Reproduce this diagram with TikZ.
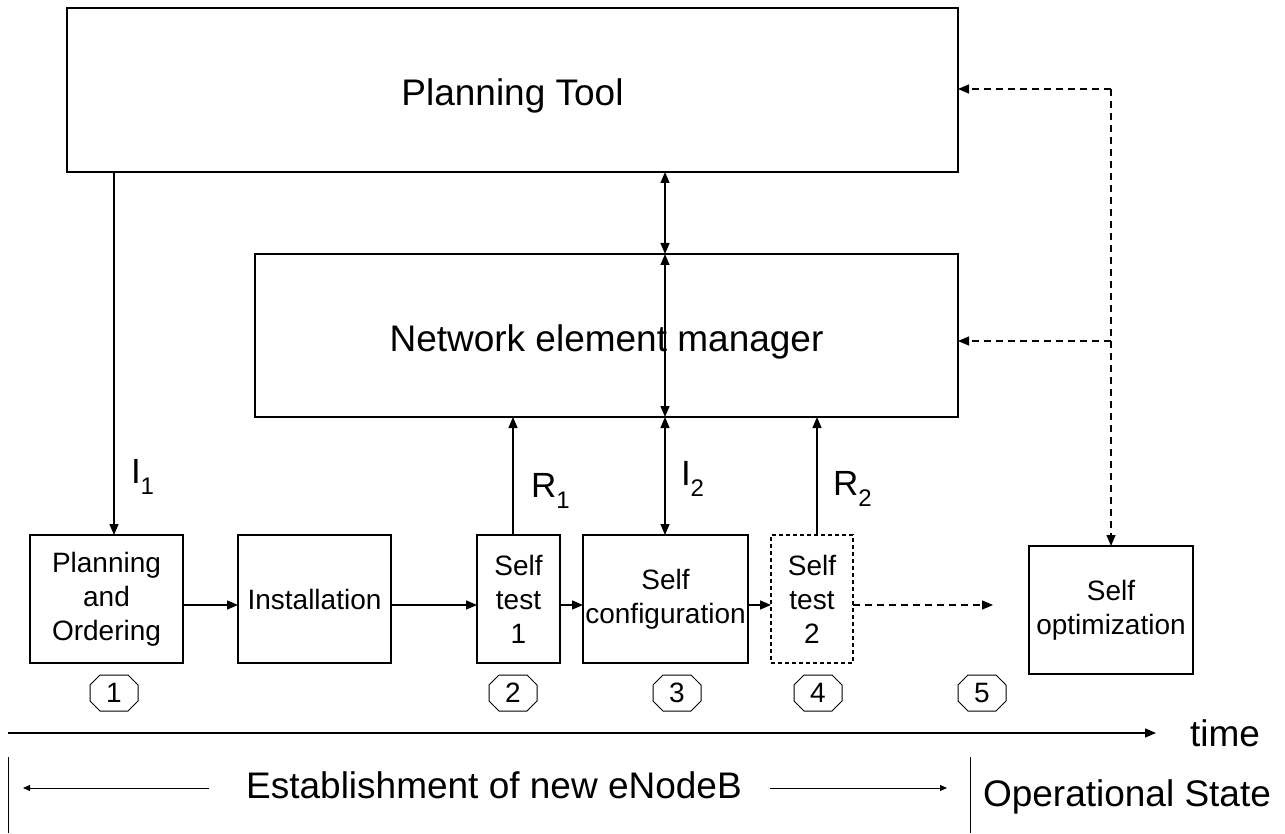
\documentclass[tikz,border=0pt]{standalone}
\usepackage{fontspec}
\setmainfont{Liberation Sans}
\usetikzlibrary{arrows.meta}
\newcommand\biglab{\fontsize{37}{44}\selectfont}
\newcommand\smalllab{\fontsize{28}{34}\selectfont}
\newcommand\sublab[2]{{\fontsize{35}{40}\selectfont #1\raisebox{-11pt}{\fontsize{24}{24}\selectfont #2}}}
\begin{document}
\begin{tikzpicture}[x=1pt,y=-1pt,
  every node/.style={inner sep=0pt,outer sep=0pt},
  bigbox/.style={draw,line width=1.2pt,align=center,font=\biglab,text height=39pt,text depth=8pt},
  stagebox/.style={draw,line width=1.2pt,align=center,font=\smalllab,minimum height=128pt},
  arr/.style={line width=1.3pt,-{Triangle[length=11pt,width=9pt]}},
  darr/.style={line width=1.3pt,{Triangle[length=11pt,width=9pt]}-{Triangle[length=11pt,width=9pt]}},
  dasharr/.style={line width=1.3pt,dash pattern=on 7pt off 5pt,-{Triangle[length=11pt,width=9pt]}},
  thinarr/.style={line width=1pt,-{Triangle[length=7pt,width=6pt]}},
  numbox/.style={minimum width=48pt,minimum height=36pt,font=\fontsize{28}{28}\selectfont},
  txt/.style={font=\biglab}
]
\useasboundingbox (0,0) rectangle (1285,834);

% big boxes
\node[bigbox,minimum width=891pt,minimum height=164pt] (PT) at (512.5,90) {Planning Tool};
\node[bigbox,minimum width=703pt,minimum height=163pt] (NEM) at (606.5,335.5) {Network element manager};

% stage boxes
\node[stagebox,minimum width=153pt] (PO) at (106.5,599) {Planning\\and\\Ordering};
\node[stagebox,minimum width=153pt] (IN) at (314.5,599) {Installation};
\node[stagebox,minimum width=83pt] (ST1) at (518.5,599) {Self\\test\\1};
\node[stagebox,minimum width=165pt] (SC) at (665.5,599) {Self\\configuration};
\node[stagebox,minimum width=82pt,dash pattern=on 4pt off 3pt] (ST2) at (812,599) {Self\\test\\2};
\node[stagebox,minimum width=164pt] (SO) at (1111,610) {Self\\optimization};

% helper coordinates
\coordinate (xI1) at (114,0);
\coordinate (xR1) at (513,0);
\coordinate (xC) at (665,0);
\coordinate (xR2) at (817,0);
\coordinate (hy) at (0,605);
\coordinate (dend) at (993,605);
\coordinate (dPT) at (1111,89);
\coordinate (dNEM) at (1111,341);

% vertical connectors
\draw[arr] (PT.south -| xI1) -- (PO.north -| xI1);
\draw[darr] (PT.south -| xC) -- (NEM.north -| xC);
\draw[darr] (NEM.north -| xC) -- (NEM.south -| xC);
\draw[darr] (NEM.south -| xC) -- (SC.north -| xC);
\draw[arr] (ST1.north -| xR1) -- (NEM.south -| xR1);
\draw[arr] (ST2.north -| xR2) -- (NEM.south -| xR2);

% labels on connectors
\node[anchor=base west] (lI1) at (131,483) {\sublab{I}{1}};
\node[anchor=base west] (lR1) at (531,497) {\sublab{R}{1}};
\node[anchor=base west] (lI2) at (681,485) {\sublab{I}{2}};
\node[anchor=base west] (lR2) at (833,495) {\sublab{R}{2}};

% horizontal flow
\draw[arr] (PO.east |- hy) -- (IN.west |- hy);
\draw[arr] (IN.east |- hy) -- (ST1.west |- hy);
\draw[arr] (ST1.east |- hy) -- (SC.west |- hy);
\draw[arr] (SC.east |- hy) -- (ST2.west |- hy);
\draw[dasharr] (ST2.east |- hy) -- (dend);

% dashed feedback
\draw[dasharr] (dPT) -- (PT.east |- dPT);
\draw[dasharr] (dNEM) -- (NEM.east |- dNEM);
\draw[line width=1.3pt,dash pattern=on 7pt off 5pt] (dPT) -- (dNEM);
\draw[dasharr] (dNEM) -- (SO.north);

% step numbers
\node[numbox] (n1) at (114,693) {1};
\node[numbox] (n2) at (513,693) {2};
\node[numbox] (n3) at (677,693) {3};
\node[numbox] (n4) at (818,693) {4};
\node[numbox] (n5) at (982,693) {5};
\foreach \n in {n1,n2,n3,n4,n5}{
  \draw[line width=1pt]
    ([xshift=10pt]\n.north west) -- ([xshift=-10pt]\n.north east)
    -- ([yshift=-10pt]\n.north east) -- ([yshift=10pt]\n.south east)
    -- ([xshift=-10pt]\n.south east) -- ([xshift=10pt]\n.south west)
    -- ([yshift=10pt]\n.south west) -- ([yshift=-10pt]\n.north west) -- cycle;
}

% time axis
\coordinate (t0) at (8,733);
\coordinate (t1) at (1156,733);
\draw[arr] (t0) -- (t1);
\node[txt,anchor=west] (time) at (1190,733) {time};

% phases
\coordinate (a0) at (8,757);
\coordinate (a1) at (8,833);
\coordinate (b0) at (970,757);
\coordinate (b1) at (970,833);
\draw[line width=1pt] (a0) -- (a1);
\draw[line width=1pt] (b0) -- (b1);
\node[txt] (est) at (494,785) {Establishment of new eNodeB};
\coordinate (la) at (209,788);
\coordinate (lb) at (23,788);
\coordinate (ra) at (770,788);
\coordinate (rb) at (947,788);
\draw[thinarr] (la) -- (lb);
\draw[thinarr] (ra) -- (rb);
\node[txt,anchor=west] (ops) at (983,797) {Operational State};
\end{tikzpicture}
\end{document}
